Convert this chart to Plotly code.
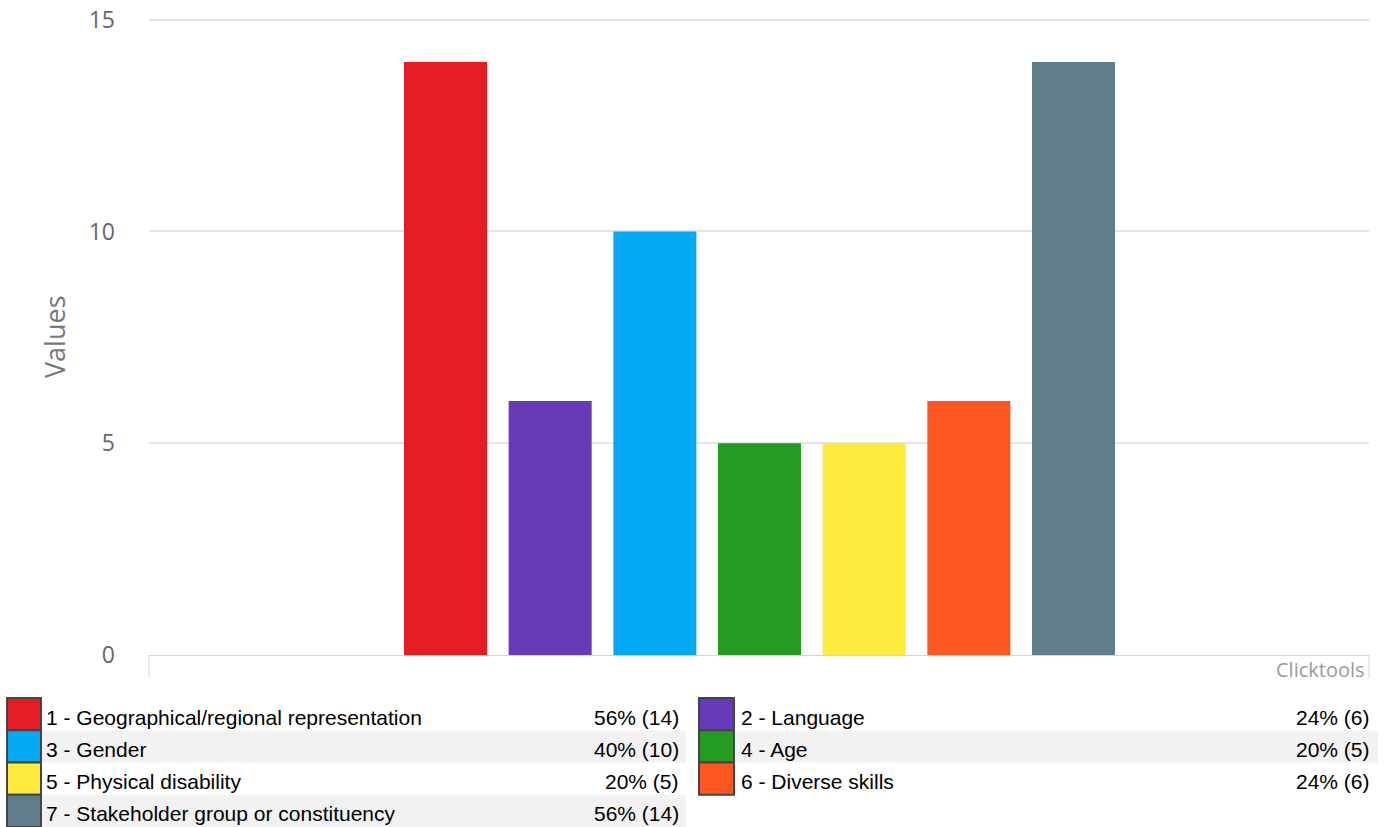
import plotly.graph_objects as go

# ---- data ----
categories = [
    "1 - Geographical/regional representation",
    "2 - Language",
    "3 - Gender",
    "4 - Age",
    "5 - Physical disability",
    "6 - Diverse skills",
    "7 - Stakeholder group or constituency",
]
values = [14, 6, 10, 5, 5, 6, 14]
percents = [56, 24, 40, 20, 20, 24, 56]
colors = ["#e51c23", "#673ab7", "#03a9f4", "#259b24", "#ffeb3b", "#ff5722", "#607d8b"]
y_ticks = [0, 5, 10, 15]

W, H = 1387, 827
L, R, T, B = 149, 18, 18, 172
PW, PH = W - L - R, H - T - B


def px(x):
    return (x - L) / PW


def py(y):
    return (H - B - y) / PH


fig = go.Figure()
fig.add_trace(go.Bar(
    x=list(range(len(values))),
    y=values,
    width=0.793,
    marker=dict(color=colors, line=dict(width=0)),
    hovertext=categories,
    showlegend=False,
))

shapes = []
annotations = []

# axis end ticks
for xp in (L, L + PW):
    shapes.append(dict(type="line", xref="paper", yref="paper",
                       x0=px(xp), x1=px(xp), y0=py(655), y1=py(678),
                       line=dict(color="#ccd6eb", width=1)))

# y-axis title
annotations.append(dict(text="Values", xref="paper", yref="paper",
                        x=px(54), y=py(337), textangle=-90, showarrow=False,
                        font=dict(family="Open Sans", size=27, color="#777777"),
                        xanchor="center", yanchor="middle"))
# watermark
annotations.append(dict(text="Clicktools", xref="paper", yref="paper",
                        x=px(1367), y=py(669), showarrow=False,
                        font=dict(family="Open Sans", size=20, color="#9a9a9a"),
                        xanchor="right", yanchor="middle"))

# custom legend (two columns)
row_h = 32.25
top = 698
cols = [
    dict(box=(7, 41), band=(42, 686), text_x=44, pct_x=681),
    dict(box=(699, 734), band=(735, 1378), text_x=739, pct_x=1372),
]
for i, (cat, val, pct, col) in enumerate(zip(categories, values, percents, colors)):
    c = cols[i % 2]
    r = i // 2
    y0 = top + r * row_h
    y1 = y0 + row_h
    if r % 2 == 1:
        shapes.append(dict(type="rect", xref="paper", yref="paper",
                           x0=px(c["band"][0]), x1=px(c["band"][1]),
                           y0=py(y1), y1=py(y0),
                           fillcolor="#f2f2f2", line=dict(width=0), layer="below"))
    shapes.append(dict(type="rect", xref="paper", yref="paper",
                       x0=px(c["box"][0]), x1=px(c["box"][1]),
                       y0=py(y1), y1=py(y0),
                       fillcolor=col, line=dict(color="#444444", width=2)))
    ym = (y0 + y1) / 2 + 3
    annotations.append(dict(text=cat, xref="paper", yref="paper",
                            x=px(c["text_x"]), y=py(ym), showarrow=False,
                            xanchor="left", yanchor="middle",
                            font=dict(family="Liberation Sans, Arial", size=21, color="#000000")))
    annotations.append(dict(text=f"{pct}% ({val})", xref="paper", yref="paper",
                            x=px(c["pct_x"]), y=py(ym), showarrow=False,
                            xanchor="right", yanchor="middle",
                            font=dict(family="Liberation Sans, Arial", size=21, color="#000000")))

xmin = -(445.5 - L) / 104.67
xmax = xmin + PW / 104.67

fig.update_layout(
    width=W, height=H,
    margin=dict(l=L, r=R, t=T, b=B, pad=0, autoexpand=False),
    paper_bgcolor="white", plot_bgcolor="white",
    xaxis=dict(range=[xmin, xmax], showticklabels=False, showgrid=False,
               zeroline=False, showline=True, linecolor="#ccd6eb", linewidth=1,
               fixedrange=True, automargin=False),
    yaxis=dict(range=[0, 15.04], tickvals=y_ticks, showgrid=True, gridcolor="#e4e4e4",
               gridwidth=2, zeroline=False, showline=False,
               tickfont=dict(family="Open Sans", size=23, color="#666666"),
               ticklabelstandoff=33, fixedrange=True, automargin=False),
    shapes=shapes,
    annotations=annotations,
    showlegend=False,
)

fig.write_html(
    "out.html",
    config={"displayModeBar": False},
    post_script="document.body.style.margin='0';document.documentElement.style.overflow='hidden';",
)
